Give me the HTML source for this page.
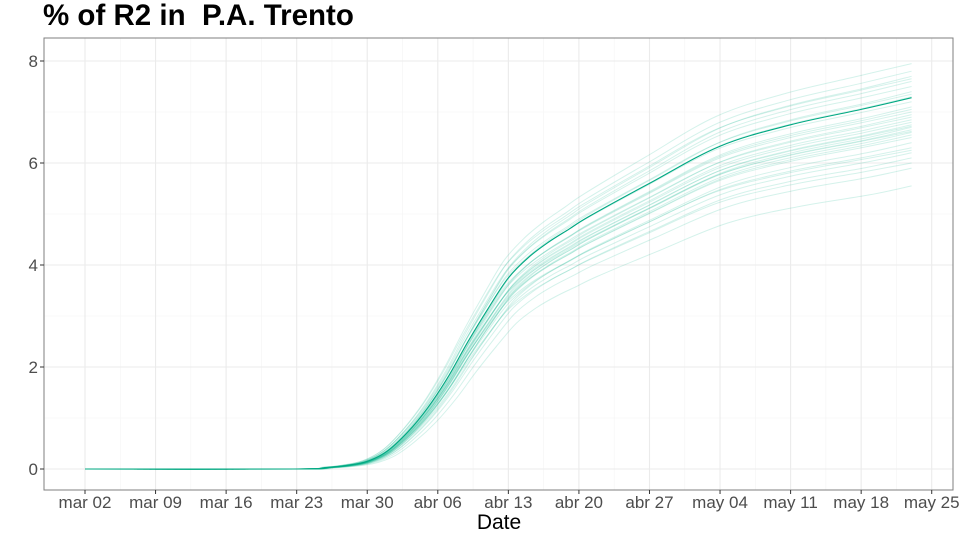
<!DOCTYPE html>
<html><head><meta charset="utf-8"><style>
body{margin:0;background:#fff;}
svg{display:block;font-family:"Liberation Sans",sans-serif;}
</style></head><body>
<svg id="chart" width="960" height="540">
<text x="43" y="25" font-size="29.5" font-weight="bold" fill="#000" style="white-space:pre">% of R2 in  P.A. Trento</text>
<rect x="44" y="38" width="909" height="452" fill="#fff"/>
<g id="grid"></g>
<g id="ens"></g>
<g id="main"></g>
<rect x="44" y="38" width="909" height="452" fill="none" stroke="#7f7f7f" stroke-width="1"/>
<g id="axes"></g>
<text x="499" y="529" font-size="21" text-anchor="middle" fill="#000">Date</text>
</svg>
<script>
const dayIdx = [0,21,24,26,28,30,32,34,36,38,40,42,44,46,48,50,56,63,70,77,82];
const values = [0,0,0.03,0.07,0.15,0.35,0.72,1.2,1.8,2.5,3.15,3.75,4.15,4.45,4.7,4.95,5.6,6.33,6.75,7.05,7.28];
const ensembleEnds = [5.55,5.9,6.0,6.1,6.2,6.25,6.3,6.4,6.5,6.55,6.6,6.62,6.65,6.7,6.72,6.75,6.8,6.85,6.9,6.95,7.0,7.05,7.1,7.2,7.3,7.35,7.4,7.5,7.6,7.65,7.7,7.8,7.95];
const ensembleShifts = [0.8,0.6,-0.2,0.4,0.2,-0.4,0,0.5,-0.1,0.2,0.3,-0.3,0.1,0.4,-0.1,0.2,0,0.1,-0.2,0.3,-0.2,0,0.2,-0.4,0.1,-0.2,0.3,-0.3,0,-0.5,0.1,-0.2,-0.4];
const xTickLabels = ["mar 02","mar 09","mar 16","mar 23","mar 30","abr 06","abr 13","abr 20","abr 27","may 04","may 11","may 18","may 25"];
const yTicks = [0,2,4,6,8];
const NS="http://www.w3.org/2000/svg";
const X = d => 85 + d*10.08;
const Y = v => 469 - v*51;
const finalVal = values[values.length-1];
function mk(tag, attrs, parent){const e=document.createElementNS(NS,tag);for(const k in attrs)e.setAttribute(k,attrs[k]);parent.appendChild(e);return e;}
function pathFrom(pts){
  let d="M"+pts[0][0].toFixed(1)+","+pts[0][1].toFixed(1);
  for(let i=0;i<pts.length-1;i++){
    const p0=pts[Math.max(0,i-1)],p1=pts[i],p2=pts[i+1],p3=pts[Math.min(pts.length-1,i+2)];
    const c1=[p1[0]+(p2[0]-p0[0])/6,p1[1]+(p2[1]-p0[1])/6];
    const c2=[p2[0]-(p3[0]-p1[0])/6,p2[1]-(p3[1]-p1[1])/6];
    d+="C"+c1[0].toFixed(1)+","+c1[1].toFixed(1)+" "+c2[0].toFixed(1)+","+c2[1].toFixed(1)+" "+p2[0].toFixed(1)+","+p2[1].toFixed(1);
  }
  return d;
}
const grid=document.getElementById('grid'), axes=document.getElementById('axes');
for(let v=1;v<=7;v+=2){const l=mk('line',{x1:44,x2:953,y1:Y(v),y2:Y(v),stroke:'#f4f4f4','stroke-width':0.6},grid);
}
for(let i=0;i<xTickLabels.length;i++){const xm=X(i*7+3.5);if(xm<953){const l=mk('line',{x1:xm,x2:xm,y1:38,y2:490,stroke:'#f4f4f4','stroke-width':0.6},grid);
}}
yTicks.forEach(v=>{const l=mk('line',{x1:44,x2:953,y1:Y(v),y2:Y(v),stroke:'#ebebeb','stroke-width':1.1},grid);

const t=mk('line',{x1:40,x2:44,y1:Y(v),y2:Y(v),stroke:'#333'},axes);

const tx=mk('text',{x:38,y:Y(v)+6,'font-size':17,'text-anchor':'end',fill:'#4d4d4d'},axes);tx.textContent=v;
});
xTickLabels.forEach((lab,i)=>{const x=X(i*7);
const l=mk('line',{x1:x,x2:x,y1:38,y2:490,stroke:'#ebebeb','stroke-width':1.1},grid);

const t=mk('line',{x1:x,x2:x,y1:490,y2:494,stroke:'#333'},axes);

const tx=mk('text',{x:x,y:508,'font-size':17,'text-anchor':'middle',fill:'#4d4d4d'},axes);tx.textContent=lab;
});
const ens=document.getElementById('ens');
ensembleEnds.forEach((end,k)=>{const s=end/finalVal, sh=ensembleShifts[k];
const pts=dayIdx.map((d,i)=>[X(Math.min(82,Math.max(0,d+(i>0&&i<dayIdx.length-1?sh:0)))),Y(values[i]*s)]);
const p=mk('path',{d:pathFrom(pts),fill:'none',stroke:'#00b386','stroke-opacity':0.17,'stroke-width':1},ens);
});
const pts=dayIdx.map((d,i)=>[X(d),Y(values[i])]);
const m=mk('path',{d:pathFrom(pts),fill:'none',stroke:'#00a882','stroke-width':1.1},document.getElementById('main'));

</script>
</body></html>
